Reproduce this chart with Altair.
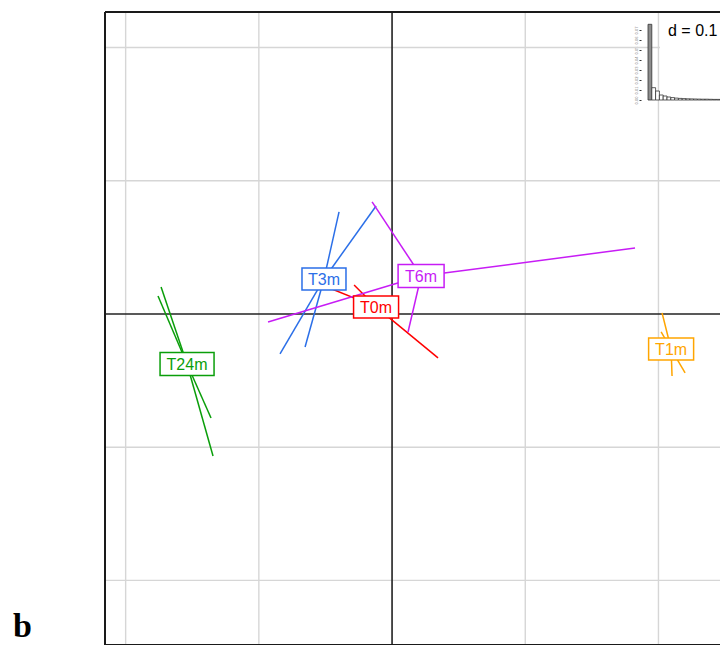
import altair as alt
import pandas as pd

# ---------------- data ----------------
groups = ["T0m", "T1m", "T3m", "T6m", "T24m"]
colors = ["#FF0000", "#FFA500", "#2B6FE8", "#C71CF5", "#0A9E0A"]
cent_x = [-0.0120, 0.2095, -0.0511, 0.0218, -0.1539]
cent_y = [0.0053, -0.0263, 0.0263, 0.0285, -0.0375]

pt_group = ["T0m", "T0m", "T0m",
            "T1m", "T1m", "T1m", "T1m",
            "T3m", "T3m", "T3m", "T3m",
            "T6m", "T6m", "T6m", "T6m",
            "T24m", "T24m", "T24m", "T24m"]
pt_x = [-0.0526, -0.0285, 0.0345,
        0.2027, 0.2020, 0.2102, 0.2200,
        -0.0398, -0.0120, -0.0841, -0.0653,
        -0.0150, 0.1824, -0.0931, 0.0120,
        -0.1734, -0.1757, -0.1359, -0.1344]
pt_y = [0.0218, 0.0218, -0.0330,
        0.0008, -0.0135, -0.0465, -0.0443,
        0.0766, 0.0811, -0.0300, -0.0248,
        0.0841, 0.0495, -0.0060, -0.0135,
        0.0203, 0.0135, -0.0781, -0.1066]

grid_step = 0.1
grid_vals = [-0.2, -0.1, 0.1, 0.2]

eig = [0.0757, 0.0123, 0.0090, 0.0050, 0.0040, 0.0030, 0.0024, 0.0019,
       0.0016, 0.0014, 0.0012, 0.0011, 0.0010, 0.0009, 0.0008, 0.0008,
       0.0007, 0.0006, 0.0006, 0.0005, 0.0005, 0.0004]
eig_ticks = [0.0, 0.01, 0.02, 0.03, 0.04, 0.05, 0.06, 0.07]

# ---------------- layout ----------------
W, H = 615, 633
x_dom = [-0.2155, 0.2462]
y_dom = [-0.2485, 0.2267]
xs = alt.Scale(domain=x_dom, nice=False, zero=False)
ys = alt.Scale(domain=y_dom, nice=False, zero=False)
cscale = alt.Scale(domain=groups, range=colors)

# inset placement (pixels inside plot area)
ins_left, ins_bar, ins_base, ins_maxh = 543.0, 3.8, 88.0, 75.7
ix_lo = -ins_left / ins_bar
ix_hi = ix_lo + W / ins_bar
unit = max(eig) / ins_maxh          # value per pixel
ey_lo = -(H - ins_base) * unit
ey_hi = ey_lo + H * unit

df_lines = pd.DataFrame({
    "grp": pt_group,
    "px": pt_x,
    "py": pt_y,
    "cx": [cent_x[groups.index(g)] for g in pt_group],
    "cy": [cent_y[groups.index(g)] for g in pt_group],
})
df_cent = pd.DataFrame({"grp": groups, "cx": cent_x, "cy": cent_y})
df_grid = pd.DataFrame({"v": grid_vals})
df_zero = pd.DataFrame({"v": [0.0]})
df_eig = pd.DataFrame({
    "i": list(range(len(eig))),
    "i2": [k + 1 for k in range(len(eig))],
    "e": eig,
    "z": [0.0] * len(eig),
    "first": ["a"] + ["b"] * (len(eig) - 1),
})

# label box paths (unit = 50 px with size 10000)
def box(wpx, hpx):
    a, b = wpx / 100.0, hpx / 100.0
    return f"M{-a},{-b}L{a},{-b}L{a},{b}L{-a},{b}Z"

box_paths = [box(45, 22), box(45, 22), box(44, 22), box(46, 23), box(54, 23)]

X = lambda f: alt.X(f, scale=xs, axis=None)
Y = lambda f: alt.Y(f, scale=ys, axis=None)

gx = alt.Chart(df_grid).mark_rule(color="#D6D6D6", strokeWidth=1.4).encode(x=X("v:Q"))
gy = alt.Chart(df_grid).mark_rule(color="#D6D6D6", strokeWidth=1.4).encode(y=Y("v:Q"))

# d box (white)
dbox = alt.Chart(pd.DataFrame({"t": ["d"]})).mark_rect(fill="white").encode(
    x=alt.value(555), x2=alt.value(W), y=alt.value(1), y2=alt.value(40))
dtext = alt.Chart(pd.DataFrame({"t": [f"d = {grid_step:g}"]})).mark_text(
    font="Liberation Sans", fontSize=16, align="left", baseline="alphabetic", color="black"
).encode(x=alt.value(563), y=alt.value(24), text="t:N")

zx = alt.Chart(df_zero).mark_rule(color="#222222", strokeWidth=1.6).encode(x=X("v:Q"))
zy = alt.Chart(df_zero).mark_rule(color="#222222", strokeWidth=1.6).encode(y=Y("v:Q"))

stars = alt.Chart(df_lines).mark_rule(strokeWidth=1.5).encode(
    x=X("cx:Q"), y=Y("cy:Q"), x2="px:Q", y2="py:Q",
    color=alt.Color("grp:N", scale=cscale, legend=None))

boxes = alt.Chart(df_cent).mark_point(
    filled=False, fill="white", fillOpacity=1, opacity=1, strokeWidth=1.5, size=10000
).encode(
    x=X("cx:Q"), y=Y("cy:Q"),
    shape=alt.Shape("grp:N", scale=alt.Scale(domain=groups, range=box_paths), legend=None),
    stroke=alt.Stroke("grp:N", scale=cscale, legend=None))

labels = alt.Chart(df_cent).mark_text(
    font="Liberation Sans", fontSize=16, baseline="middle", align="center", dy=1
).encode(
    x=X("cx:Q"), y=Y("cy:Q"), text="grp:N",
    color=alt.Color("grp:N", scale=cscale, legend=None))

bars = alt.Chart(df_eig).mark_rect(stroke="#333333", strokeWidth=0.8, clip=True).encode(
    x=alt.X("i:Q", scale=alt.Scale(domain=[ix_lo, ix_hi], nice=False, zero=False), axis=None),
    x2="i2:Q",
    y=alt.Y("e:Q", scale=alt.Scale(domain=[ey_lo, ey_hi], nice=False, zero=False),
            axis=alt.Axis(orient="left", offset=-(ins_left - 7), domain=False, grid=False,
                          values=eig_ticks, tickSize=2, tickColor="#333333", tickWidth=1,
                          labelFontSize=4, labelColor="#777777", labelAngle=270,
                          labelPadding=1, format=".2f", title=None, labelFlush=False)),
    y2="z:Q",
    fill=alt.Fill("first:N", scale=alt.Scale(domain=["a", "b"], range=["#8C8C8C", "white"]), legend=None))

frame_l = alt.Chart(df_zero).mark_rule(color="#1A1A1A", strokeWidth=2).encode(
    x=alt.value(0), y=alt.value(0), y2=alt.value(H))
frame_t = alt.Chart(df_zero).mark_rule(color="#1A1A1A", strokeWidth=2).encode(
    y=alt.value(0), x=alt.value(0), x2=alt.value(W))
frame_b = alt.Chart(df_zero).mark_rule(color="#1A1A1A", strokeWidth=2).encode(
    y=alt.value(H), x=alt.value(0), x2=alt.value(W))

title = alt.Chart(pd.DataFrame({"t": ["b"]})).mark_text(
    font="Liberation Serif", fontWeight="bold", fontSize=34, align="left",
    baseline="alphabetic", color="black"
).encode(x=alt.value(-92), y=alt.value(625), text="t:N")

chart = alt.layer(
    gx, gy, dbox, dtext, zx, zy, stars, boxes, labels, bars,
    frame_l, frame_t, frame_b, title
).resolve_scale(
    x="independent", y="independent", color="independent", stroke="independent",
    shape="independent", fill="independent"
).resolve_axis(x="independent", y="independent").properties(
    width=W, height=H,
    autosize=alt.AutoSizeParams(type="none"),
    padding={"left": 97, "top": 4, "right": 0, "bottom": 0},
    background="white",
).configure_view(stroke=None)

chart.save("out.html", embed_options={"renderer": "svg", "actions": False})
